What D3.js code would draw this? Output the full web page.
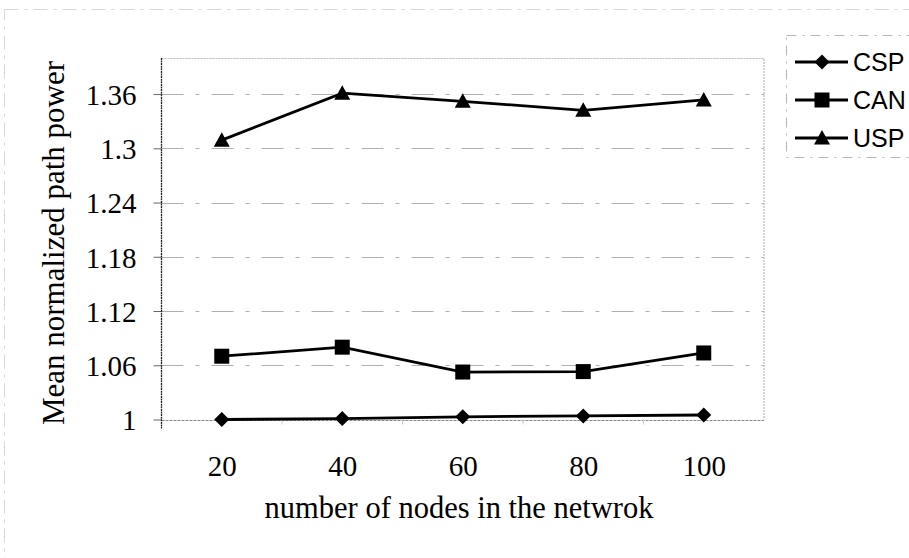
<!DOCTYPE html>
<html>
<head>
<meta charset="utf-8">
<script src="https://cdn.jsdelivr.net/npm/d3@7"></script>
<style>
  html, body { margin: 0; padding: 0; background: #fff; }
  svg { display: block; }
</style>
</head>
<body>
<svg id="chart" width="909" height="558"></svg>
<script>
const categories = ["20", "40", "60", "80", "100"];
const seriesNames = ["CSP", "CAN", "USP"];
const cspValues = [1.000, 1.001, 1.003, 1.004, 1.005];
const canValues = [1.070, 1.080, 1.0525, 1.053, 1.0736];
const uspValues = [1.309, 1.361, 1.352, 1.342, 1.3535];
const yTicks = [1, 1.06, 1.12, 1.18, 1.24, 1.3, 1.36];
const yTitle = "Mean normalized path power";
const xTitle = "number of nodes in the netwrok";

(function () {
const series = [
  { name: seriesNames[0], values: cspValues, shape: "diamond" },
  { name: seriesNames[1], values: canValues, shape: "square" },
  { name: seriesNames[2], values: uspValues, shape: "triangle" }
];

const svg = d3.select("#chart");
const pLeft = 161.5, pRight = 764, pTop = 57.9, pBottom = 419.5;
const serif = "'Liberation Serif', 'Times New Roman', Times, serif";
const sans = "'Liberation Sans', Arial, Helvetica, sans-serif";

const x = d3.scalePoint().domain(categories).range([pLeft, pRight]).padding(0.5);
const y = d3.scaleLinear().domain([1, 1.4]).range([pBottom, pTop]);

// faint outer frame (scan border)
svg.append("rect").attr("x", 4.5).attr("y", 9.5).attr("width", 910).attr("height", 560)
  .attr("fill", "none").attr("stroke", "#d8d8d8").attr("stroke-width", 1)
  .attr("stroke-dasharray", "14,6,3,6");

// gridlines
svg.append("g").selectAll("line").data(yTicks.filter(d => d > 1)).join("line")
  .attr("x1", pLeft).attr("x2", pRight)
  .attr("y1", d => Math.round(y(d)) + 0.5).attr("y2", d => Math.round(y(d)) + 0.5)
  .attr("stroke", "#b0b0b0").attr("stroke-width", 1)
  .attr("stroke-dasharray", "22,12,4,12");

// top and right border
svg.append("path")
  .attr("d", `M${pLeft},${Math.round(pTop) + 0.5}H${pRight}V${pBottom}`)
  .attr("fill", "none").attr("stroke", "#b8b8b8").attr("stroke-width", 1.2)
  .attr("stroke-dasharray", "2,1");

// bottom axis line
svg.append("line").attr("x1", pLeft).attr("x2", pRight)
  .attr("y1", Math.round(pBottom) + 0.5).attr("y2", Math.round(pBottom) + 0.5)
  .attr("stroke", "#888").attr("stroke-width", 1.2).attr("stroke-dasharray", "3,1");

// small category-boundary ticks
const step = x.step();
svg.append("g").selectAll("line").data(categories.slice(1)).join("line")
  .attr("x1", d => x(d) - step / 2).attr("x2", d => x(d) - step / 2)
  .attr("y1", pBottom).attr("y2", pBottom + 5)
  .attr("stroke", "#ccc").attr("stroke-width", 1);

// y axis
const yAxis = d3.axisLeft(y).tickValues(yTicks)
  .tickFormat(d => String(+d.toFixed(2)))
  .tickSize(8).tickPadding(17);
const gy = svg.append("g").attr("transform", `translate(${pLeft},0)`).call(yAxis);
gy.select(".domain").remove();
gy.selectAll(".tick line").attr("stroke", "#666").attr("stroke-width", 1);
gy.selectAll(".tick text").attr("font-family", serif).attr("font-size", 29)
  .attr("fill", "#000").attr("dy", "0.36em");
svg.append("line").attr("x1", pLeft).attr("x2", pLeft).attr("y1", pTop).attr("y2", pBottom + 9)
  .attr("stroke", "#222").attr("stroke-width", 1.3).attr("stroke-dasharray", "2,0.6");

// x axis labels
const xAxis = d3.axisBottom(x).tickSize(0).tickPadding(0);
const gx = svg.append("g").attr("transform", `translate(0,${pBottom})`).call(xAxis);
gx.select(".domain").remove();
gx.selectAll(".tick text").attr("font-family", serif).attr("font-size", 29)
  .attr("fill", "#000").attr("dy", null).attr("y", 56);

// titles
svg.append("text").attr("x", 459).attr("y", 518).attr("text-anchor", "middle")
  .attr("font-family", serif).attr("font-size", 30.5).attr("fill", "#000").text(xTitle);
svg.append("text").attr("transform", "translate(64,243) rotate(-90)").attr("text-anchor", "middle")
  .attr("font-family", serif).attr("font-size", 31).attr("fill", "#000").text(yTitle);

// marker shapes
function markerPath(shape) {
  if (shape === "diamond") return "M0,-7.5L7.5,0L0,7.5L-7.5,0Z";
  if (shape === "square") return "M-7.5,-7.5H7.5V7.5H-7.5Z";
  return "M0,-8L8,6.5H-8Z";
}

const line = d3.line().x((d, i) => x(categories[i])).y(d => y(d));
const gs = svg.append("g");
series.forEach(s => {
  gs.append("path").datum(s.values).attr("d", line)
    .attr("fill", "none").attr("stroke", "#000").attr("stroke-width", 2.8);
  gs.append("g").selectAll("path").data(s.values).join("path")
    .attr("transform", (d, i) => `translate(${x(categories[i])},${y(d)})`)
    .attr("d", markerPath(s.shape)).attr("fill", "#000");
});

// legend
const lg = svg.append("g");
lg.append("rect").attr("x", 786.5).attr("y", 35.5).attr("width", 140).attr("height", 122)
  .attr("fill", "#fff").attr("stroke", "#b8b8b8").attr("stroke-width", 1)
  .attr("stroke-dasharray", "10,6,2,6");
const ly = d3.scalePoint().domain(seriesNames).range([62, 138]);
series.forEach(s => {
  const yy = ly(s.name);
  lg.append("line").attr("x1", 795).attr("x2", 848).attr("y1", yy).attr("y2", yy)
    .attr("stroke", "#000").attr("stroke-width", 2.8);
  lg.append("path").attr("transform", `translate(822,${yy})`)
    .attr("d", markerPath(s.shape)).attr("fill", "#000");
  lg.append("text").attr("x", 853).attr("y", yy).attr("dy", "0.36em")
    .attr("font-family", sans).attr("font-size", 25).attr("fill", "#000").text(s.name);
});
})();
</script>
</body>
</html>
